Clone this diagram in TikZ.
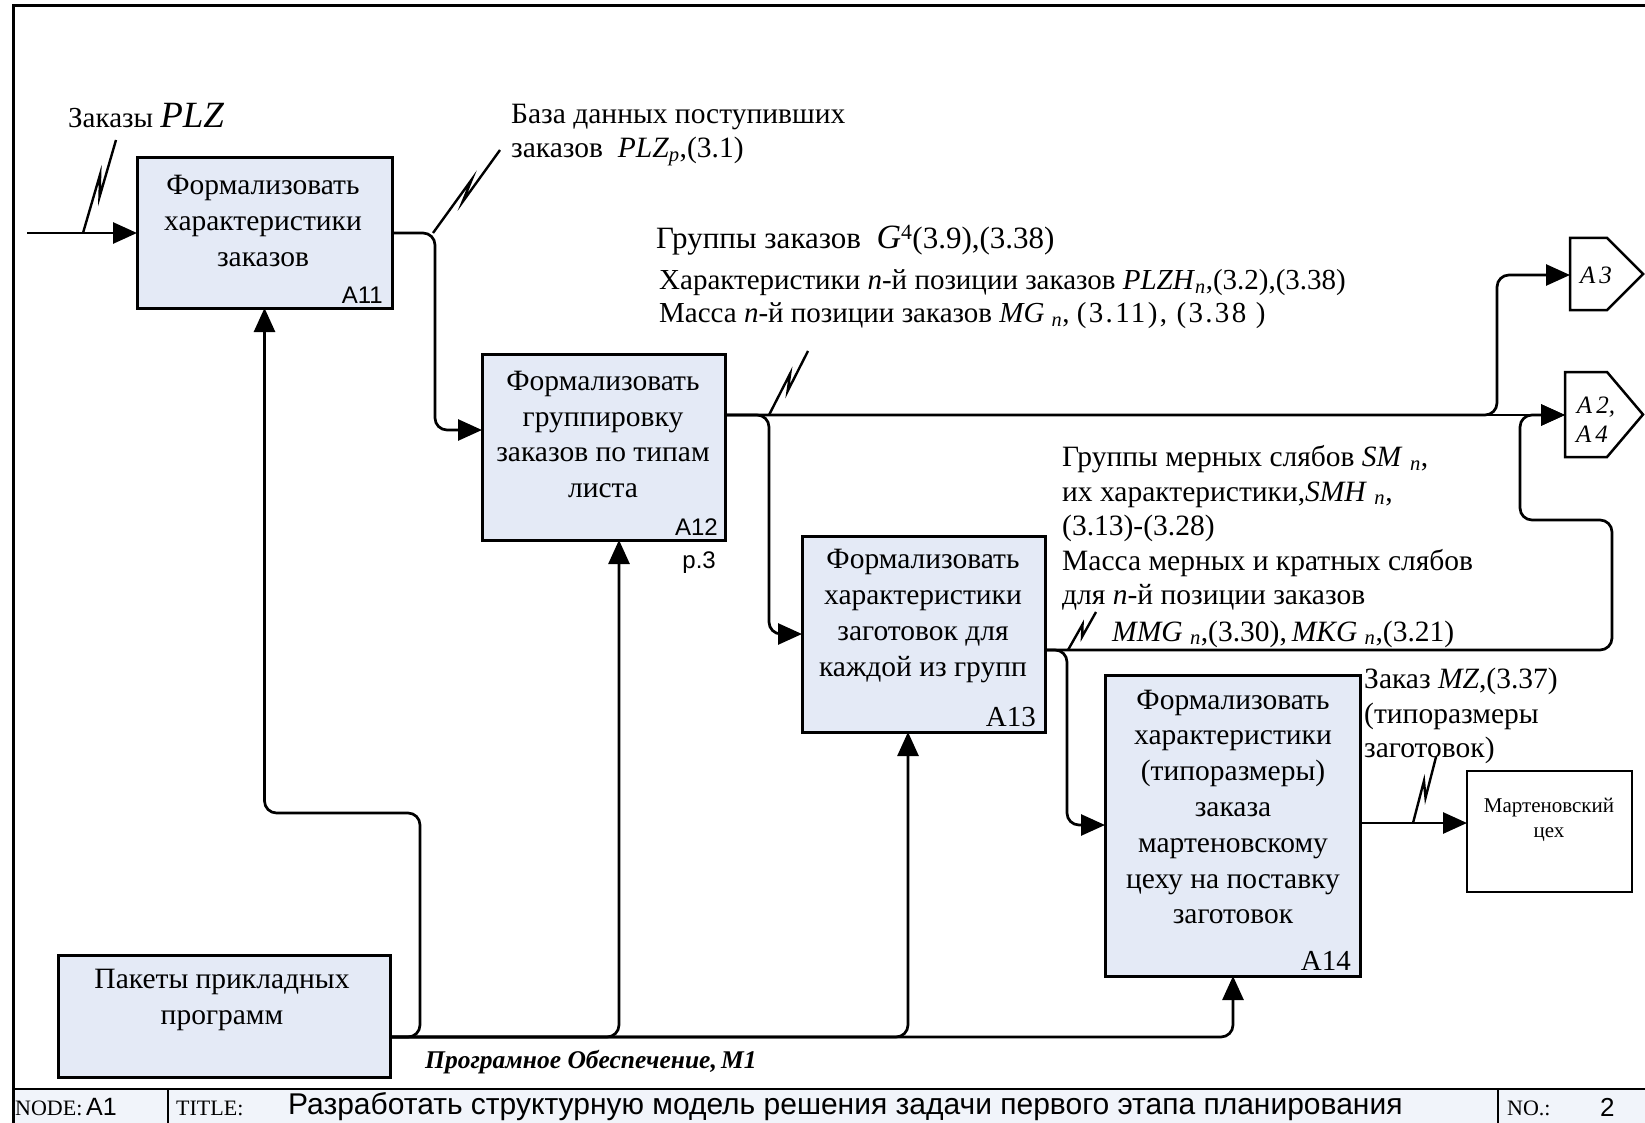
\documentclass[tikz,border=0pt]{standalone}
\usepackage{fontspec}
\setmainfont{Liberation Serif}
\setsansfont{Liberation Sans}
\usetikzlibrary{arrows.meta,calc}
\definecolor{boxfill}{RGB}{228,234,246}
\definecolor{barfill}{RGB}{241,244,250}
\newcommand{\vi}[1]{\textit{#1}}
\newcommand{\sbi}[1]{\textsubscript{\textit{#1}}}
% IDEF0 "squiggle": a thin stroke with a small zigzag, tying a label to an arrow
\newcommand{\squig}[2]{%
  \coordinate (sqa) at ($(#1)!0.62!(#2)$);
  \coordinate (sqb) at ($(#1)!0.40!(#2)$);
  \draw[sq] (#1) -- ($(sqa)!3.5pt!90:(#2)$) -- ($(sqb)!3.5pt!-90:(#2)$) -- (#2);}
\begin{document}
\begin{tikzpicture}[x=1pt,y=-1pt,
  box/.style={draw, line width=3pt, fill=boxfill, inner sep=0pt, outer sep=0pt},
  plainbox/.style={draw, line width=2.5pt, fill=white, inner sep=0pt, outer sep=0pt},
  boxtxt/.style={align=center, inner sep=0pt, font=\fontsize{29.5}{35.8}\selectfont},
  lbl/.style={align=left, anchor=west, inner sep=0pt, font=\fontsize{29.5}{34.5}\selectfont},
  conn/.style={line width=2.7pt, rounded corners=12pt, -{Triangle[length=24pt,width=21pt]}},
  sq/.style={line width=2.4pt, line join=miter},
  pent/.style={draw, line width=2.5pt, fill=white},
  num/.style={inner sep=0pt, font=\sffamily\fontsize{24}{28}\selectfont},
  numserif/.style={inner sep=0pt, font=\fontsize{29}{32}\selectfont},
  bar/.style={inner sep=0pt, anchor=west}]
\useasboundingbox (0,0) rectangle (1645,1123);
\fill[white] (0,0) rectangle (1645,1123);

% sheet frame and title bar
\fill[barfill] (13,1089) rectangle (1645,1123);
\draw[line width=3pt] (13,1123) -- (13,6) -- (1645,6);
\draw[line width=2.5pt] (13,1089) -- (1645,1089);
\draw[line width=2pt] (168,1089) -- (168,1123);
\draw[line width=2pt] (1498,1089) -- (1498,1123);
\node[bar, font=\fontsize{22}{24}\selectfont] (tnode) at (15,1108) {NODE:};
\node[bar, font=\sffamily\fontsize{25}{28}\selectfont] (tnodeval) at (86,1107) {A1};
\node[bar, font=\fontsize{22}{24}\selectfont] (ttitle) at (176,1108) {TITLE:};
\node[bar, font=\sffamily\fontsize{30}{32}\selectfont] (ttext) at (288,1107)
  {Разработать структурную модель решения задачи первого этапа планирования};
\node[bar, font=\fontsize{22}{24}\selectfont] (tno) at (1507,1108) {NO.:};
\node[bar, font=\sffamily\fontsize{26}{28}\selectfont] (tnoval) at (1600,1107) {2};

% activity boxes
\node[box, minimum width=255pt, minimum height=150pt] (A11) at (264.5,233) {};
\node[box, minimum width=243pt, minimum height=186pt] (A12) at (603.5,447) {};
\node[box, minimum width=243pt, minimum height=196pt] (A13) at (923.5,634) {};
\node[box, minimum width=255pt, minimum height=301pt] (A14) at (1232.5,825.5) {};
\node[box, minimum width=332pt, minimum height=122pt] (PK) at (224,1016) {};
\node[plainbox, minimum width=165pt, minimum height=121pt] (MC) at (1549.5,831.5) {};

\node[boxtxt] (t11) at (263,221) {Формализовать\\характеристики\\заказов};
\node[boxtxt] (t12) at (603,434.5) {Формализовать\\группировку\\заказов по типам\\листа};
\node[boxtxt] (t13) at (923,616) {Формализовать\\характеристики\\заготовок для\\каждой из групп};
\node[boxtxt] (t14) at (1233,807) {Формализовать\\характеристики\\(типоразмеры)\\заказа\\мартеновскому\\цеху на поставку\\заготовок};
\node[boxtxt] (tpk) at (222,1000) {Пакеты прикладных\\программ};
\node[align=center, inner sep=0pt, font=\fontsize{21}{25}\selectfont] (tmc) at (1549,820) {Мартеновский\\цех};

\node[num, anchor=south east] (n11) at (383,304) {A11};
\node[num, anchor=south east] (n12) at (718,536) {A12};
\node[num, anchor=north east] (p3) at (716,552) {p.3};
\node[numserif, anchor=south east] (n13) at (1036,727) {A13};
\node[numserif, anchor=south east] (n14) at (1351,971) {A14};

% off-page references
\draw[pent] (1570,238) -- (1607,238) -- (1643,274) -- (1607,310) -- (1570,310) -- cycle;
\draw[pent] (1565,372) -- (1607,372) -- (1643,414.5) -- (1607,457) -- (1565,457) -- cycle;
\coordinate (A3in) at (1570,275);
\coordinate (A24in) at (1565,415);
\node[inner sep=0pt, font=\itshape\fontsize{25}{28}\selectfont] (tA3) at (1596,275) {A\,3};
\node[inner sep=0pt, font=\itshape\fontsize{25}{28}\selectfont] (tA2) at (1596,407) {A\,2,};
\node[inner sep=0pt, font=\itshape\fontsize{25}{28}\selectfont] (tA4) at (1592,434) {A\,4};

% inputs and outputs
\coordinate (in1) at (27,233);
\draw[conn] (in1) -- (A11.west);
\draw[conn] (A11.east) -- (435,233) -- (435,430) -- (A12.west |- 0,430);
\coordinate (o12) at (A12.east |- 0,415);
\draw[conn] (o12) -- (A24in);
\draw[conn] (o12) -- (1497,415) -- (1497,275) -- (A3in);
\draw[conn] (o12) -- (769,415) -- (769,634) -- (A13.west);
\coordinate (o13) at (A13.east |- 0,650);
\draw[conn] (o13) -- (1612,650) -- (1612,520) -- (1520,520) -- (1520,415) -- (A24in);
\draw[conn] (o13) -- (1067,650) -- (1067,825) -- (A14.west |- 0,825);
\draw[conn] (A14.east |- 0,823) -- (MC.west |- 0,823);

% mechanisms
\coordinate (m0) at (PK.east |- 0,1037);
\draw[conn] (m0) -- (420,1037) -- (420,813) -- (A11.south |- 0,813) -- (A11.south);
\draw[conn] (m0) -- (619,1037) -- (A12.south -| 619,0);
\draw[conn] (m0) -- (908,1037) -- (A13.south -| 908,0);
\draw[conn] (m0) -- (1233,1037) -- (A14.south -| 1233,0);

% labels with squiggles
\coordinate (s1a) at (83,233);   \coordinate (s1b) at (116,140);  \squig{s1a}{s1b}
\coordinate (s2a) at (433,233);  \coordinate (s2b) at (500,150);  \squig{s2a}{s2b}
\coordinate (s3a) at (769,415);  \coordinate (s3b) at (808,351);  \squig{s3a}{s3b}
\coordinate (s4a) at (1068,650); \coordinate (s4b) at (1096,612); \squig{s4a}{s4b}
\coordinate (s5a) at (1413,823); \coordinate (s5b) at (1436,757); \squig{s5a}{s5b}

\node[lbl, font=\fontsize{29}{32}\selectfont] (l1) at (68,116) {Заказы {\fontsize{37}{38}\selectfont\vi{PLZ}}};
\node[lbl] (l2) at (511,135) {База данных поступивших\\заказов \ \vi{PLZ}\sbi{p},(3.1)};
\node[lbl, font=\fontsize{31}{32}\selectfont] (l3) at (656,240) {Группы заказов \ {\fontsize{34}{34}\selectfont\vi{G}}\textsuperscript{4}(3.9),(3.38)};
\node[lbl, font=\fontsize{29}{33}\selectfont] (l4) at (659,299.5) {Характеристики \vi{n}-й позиции заказов \vi{PLZH}\sbi{n},(3.2),(3.38)\\Масса \vi{n}-й позиции заказов \vi{MG} \sbi{n}, {\addfontfeature{LetterSpace=8}(3.11), (3.38 )}};
\node[lbl] (l5) at (1062,528) {Группы мерных слябов \vi{SM} \sbi{n},\\их характеристики,\vi{SMH} \sbi{n},\\(3.13)-(3.28)\\Масса мерных и кратных слябов\\для \vi{n}-й позиции заказов};
\node[lbl] (l6) at (1112,634) {\vi{MMG} \sbi{n},(3.30),\,\vi{MKG} \sbi{n},(3.21)};
\node[lbl] (l7) at (1364,716) {Заказ \vi{MZ},(3.37)\\(типоразмеры\\заготовок)};
\node[lbl, font=\bfseries\itshape\fontsize{25.5}{28}\selectfont] (l8) at (425,1062) {Програмное Обеспечение,\,\vi{M}1};
\end{tikzpicture}
\end{document}
